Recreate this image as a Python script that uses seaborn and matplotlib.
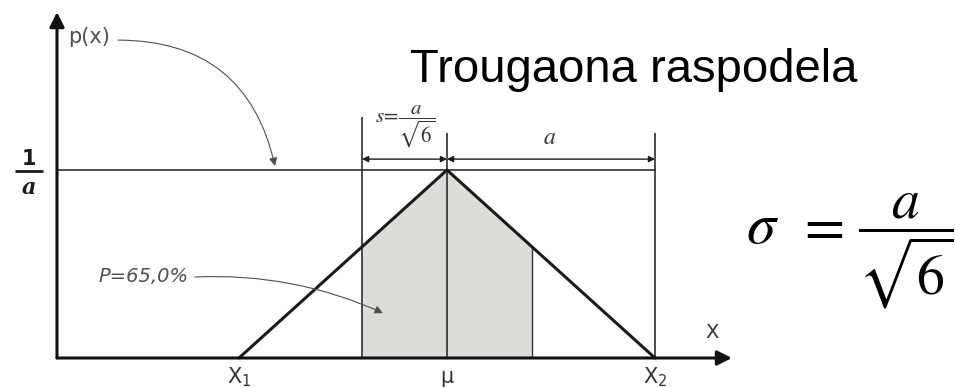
import numpy as np
import pandas as pd
import matplotlib
matplotlib.use("Agg")
import matplotlib.pyplot as plt
import seaborn as sns

# Triangular distribution on [X1, X2]: half-width a, peak height 1/a at mu.
# x is measured in units of a from mu, p(x) in units of 1/a.
point_labels = ["X$_1$", "μ", "X$_2$"]
x_vals = [-1.0, 0.0, 1.0]
p_vals = [0.0, 1.0, 0.0]
a = 1.0
prob_text = "P=65,0%"
title_text = "Trougaona raspodela"

s = a / np.sqrt(6)

sns.set_theme(style="white")
plt.rcParams["font.family"] = ["DejaVu Sans"]
plt.rcParams["mathtext.fontset"] = "stix"

fig = plt.figure(figsize=(9.55, 3.88), dpi=100)
ax = fig.add_axes([0, 0, 1, 1])
ax.set_xlim(-447 / 208, (955 - 447) / 208)
ax.set_ylim(-30 / 188, 358 / 188)
ax.axis("off")

ink = "#1b1b1b"
grey_txt = "#505050"

# shaded band mu - s .. mu + s under the density
band_x = np.array([-s, 0.0, s])
band_y = np.interp(band_x, x_vals, p_vals)
ax.fill_between(band_x, 0, band_y, color="#dcdcd9", lw=0, zorder=0)

# the triangular density
df = pd.DataFrame({"x": x_vals, "p": p_vals})
sns.lineplot(data=df, x="x", y="p", ax=ax, color=ink, lw=2.2, sort=False, zorder=3)

# coordinate axes with arrows
x0 = -1.875
arrow_kw = dict(arrowstyle="-|>", lw=2.2, color="#111111", mutation_scale=22,
                shrinkA=0, shrinkB=0)
ax.annotate("", xy=(x0, 1.84), xytext=(x0, 0), arrowprops=arrow_kw)
ax.annotate("", xy=(1.37, 0), xytext=(x0, 0), arrowprops=arrow_kw)

# level 1/a and guide lines
peak = max(p_vals)
ax.plot([x0, x_vals[2]], [peak, peak], color=ink, lw=1.1, zorder=2)
ax.vlines(-s, 0, 1.282, color=ink, lw=1.1, zorder=2)
ax.vlines(0.0, 0, 1.197, color=ink, lw=1.1, zorder=2)
ax.vlines(s, 0, band_y[2], color="#333333", lw=1.0, zorder=2)
ax.vlines(x_vals[2], 0, 1.197, color=ink, lw=1.1, zorder=2)

# dimension arrows for s and a
dim_kw = dict(arrowstyle="<|-|>", lw=1.0, color=ink, mutation_scale=9,
              shrinkA=0, shrinkB=0)
ax.annotate("", xy=(-s, 1.058), xytext=(0, 1.058), arrowprops=dim_kw)
ax.annotate("", xy=(0, 1.058), xytext=(x_vals[2], 1.058), arrowprops=dim_kw)
ax.text(-0.2, 1.232, r"$s\!=\!\dfrac{a}{\sqrt{6}}$", fontsize=15, color="#333333",
        ha="center", va="center")
ax.text(0.495, 1.176, r"$a$", fontsize=17, color="#333333", ha="center", va="center")

# value 1/a on the vertical axis
frac_x = -2.01
ax.text(frac_x, 1.06, "1", fontsize=15, fontweight="bold", color=ink,
        ha="center", va="center")
ax.plot([frac_x - 0.067, frac_x + 0.067], [0.995, 0.995], color=ink, lw=2.0,
        solid_capstyle="butt")
ax.text(frac_x, 0.905, "a", fontsize=16, fontweight="bold", style="italic",
        family="DejaVu Serif", color=ink, ha="center", va="center")

# axis labels
ax.text(-1.822, 1.707, "p(x)", fontsize=15, color=grey_txt, ha="left", va="center")
ax.text(1.274, 0.135, "X", fontsize=14, color="#333333", ha="center", va="center")
for lab, xv in zip(point_labels, x_vals):
    ax.text(xv, -0.10, lab, fontsize=15, color="#333333", ha="center", va="center",
            math_fontfamily="dejavusans")

# callouts
ax.annotate("", xy=(-0.827, 1.021), xytext=(-1.582, 1.691),
            arrowprops=dict(arrowstyle="-|>", lw=0.8, color=grey_txt,
                            mutation_scale=12, shrinkA=0, shrinkB=0,
                            connectionstyle="arc3,rad=-0.4"))
ax.text(-1.675, 0.431, prob_text, fontsize=14, style="italic", color=grey_txt,
        ha="left", va="center")
ax.annotate("", xy=(-0.308, 0.239), xytext=(-1.212, 0.431),
            arrowprops=dict(arrowstyle="-|>", lw=0.8, color=grey_txt,
                            mutation_scale=12, shrinkA=0, shrinkB=0,
                            connectionstyle="arc3,rad=-0.12"))

# title
ax.text(0.899, 1.468, title_text, fontsize=34, color="black", ha="center",
        va="baseline", family="Liberation Sans")

# standard deviation formula: sigma = a / sqrt(6)
ax.text(1.519, 0.612, r"$\sigma$", fontsize=42, color="black", ha="center",
        va="baseline")
ax.text(1.79, 0.612, r"$=$", fontsize=42, color="black", ha="center",
        va="baseline")
ax.text(2.205, 0.572, r"$\dfrac{a}{\sqrt{6}}$", fontsize=40, color="black",
        ha="center", va="center")

fig.savefig("out.png", dpi=100)
